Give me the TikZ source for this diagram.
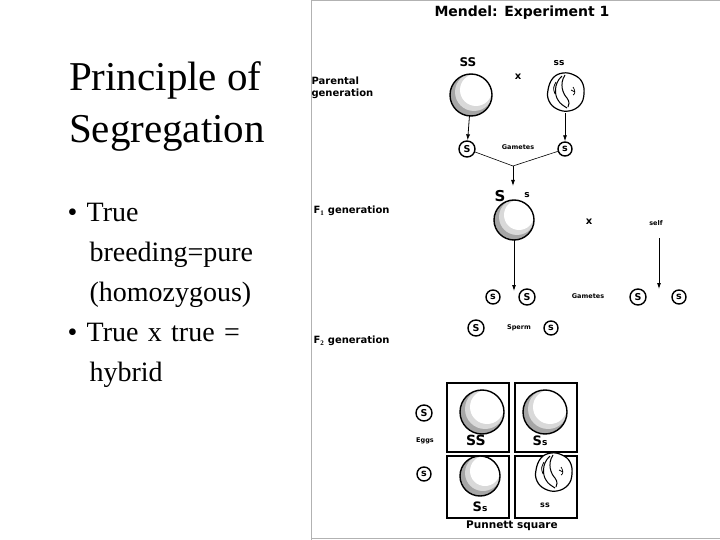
\documentclass[tikz,border=0pt]{standalone}
\usepackage{fontspec}
\setmainfont{Liberation Serif}
\newfontfamily\mac{DejaVu Sans Bold}
\usetikzlibrary{arrows.meta}
\tikzset{
  gam/.style={circle,draw,line width=1.4pt,inner sep=0pt,minimum size=#1,font=\mac\fontsize{9.5}{10}\selectfont},
  lab/.style={font=\mac\fontsize{10}{12}\selectfont,anchor=west,align=left},
  sm/.style={font=\mac\fontsize{6.5}{8}\selectfont},
  arr/.style={-{Latex[length=6pt,width=4pt]},line width=0.8pt},
  pbox/.style={draw,line width=1.3pt}
}
\newcommand{\smoothpea}[3]{%
  \begin{scope}
    \clip (#1,#2) circle (#3);
    \fill[gray!70] (#1,#2) circle (#3);
    \fill[gray!30] (#1+3,#2-3) circle (#3-2);
    \fill[white] (#1+5,#2-5) circle (#3-5);
  \end{scope}
  \draw[line width=1.4pt] (#1,#2) circle (#3);
}
\newcommand{\wrinkle}[2]{%
  \begin{scope}[shift={(#1,#2)}]
  \draw[line width=1.2pt,fill=white] plot[smooth cycle,tension=0.7] coordinates
    {(-17,-2) (-12,-14) (-2,-19) (9,-17) (17,-10) (19,2) (15,13) (4,19) (-8,17) (-16,9)};
  \draw[line width=1pt] (-3,-16) .. controls (-12,-8) and (-10,4) .. (-7,8) .. controls (-5,12) and (-1,14) .. (2,16);
  \draw[line width=1pt] (0,-17) .. controls (-6,-8) and (-2,2) .. (2,6) .. controls (5,10) and (4,13) .. (3,15);
  \draw[line width=0.8pt] (-9,-10) .. controls (-12,-4) .. (-10,2);
  \draw[line width=0.7pt] (8,-5) .. controls (10,-2) and (11,2) .. (8,3) (6,-2) -- (10,0);
  \end{scope}
}
\begin{document}
\begin{tikzpicture}[x=1pt,y=-1pt]
\useasboundingbox (0,0) rectangle (720,540);
\fill[white] (0,0) rectangle (720,540);
% left text
\node[font=\fontsize{41}{52}\selectfont,align=left] (title) at (167,106) {Principle of\\Segregation};
\node[font=\fontsize{28}{40}\selectfont,anchor=north west,align=left,text width=230pt] (b1) at (64,200)
 {\textbullet\ True\\\hspace*{22pt}breeding=pure\\\hspace*{22pt}(homozygous)\\\textbullet\ True x true =\\\hspace*{22pt}hybrid};
% frame
\draw[gray!60,line width=1pt] (311,0) -- (311,540);
\draw[gray!60,line width=1pt] (311,1) -- (720,1);
\draw[gray!60,line width=1pt] (311,538) -- (720,538);
% header
\node[font=\mac\fontsize{14}{14}\selectfont] (head) at (522,13) {Mendel: Experiment 1};
\node[lab] (par) at (308,88) {Parental\\generation};
\node[lab] (f1) at (310,211) {F$_{\mathbf 1}$ generation};
\node[lab] (f2) at (310,341) {F$_{\mathbf 2}$ generation};
% parental
\node[font=\mac\fontsize{12}{12}\selectfont] (lSS) at (468,62) {SS};
\smoothpea{471}{95}{21}
\node[circle,minimum size=42pt] (p1) at (471,95) {};
\node[font=\mac\fontsize{10}{11}\selectfont] (x1) at (518,77) {x};
\node[font=\mac\fontsize{9}{9}\selectfont] (lss) at (559,63) {ss};
\wrinkle{565}{92}
\node[circle,minimum size=42pt] (p2) at (565,92) {};
\node[gam=16pt] (g1) at (467,149) {S};
\node[gam=14pt] (g2) at (565,149) {s};
\node[sm] (gl1) at (518,147) {Gametes};
\draw[arr] (p1) -- (g1);
\draw[arr] (p2) -- (g2);
\coordinate (j) at (513,166);
\draw[line width=0.6pt] (g1) -- (j) -- (g2);
% F1
\node[font=\mac\fontsize{15}{15}\selectfont] (fS) at (500,196) {S};
\node[font=\mac\fontsize{9}{9}\selectfont] (fs) at (527,195) {s};
\draw[arr] (j) -- (513,186);
\smoothpea{514}{220}{20}
\node[circle,minimum size=40pt] (f1p) at (514,220) {};
\node[font=\mac\fontsize{10}{11}\selectfont] (x2) at (589,222) {x};
\node[sm] (self) at (656,223) {self};
\node[gam=14pt] (h1) at (493,297) {s};
\node[gam=16pt] (h2) at (527,297) {S};
\node[sm] (gl2) at (588,296) {Gametes};
\node[gam=16pt] (h3) at (638,297) {S};
\node[gam=14pt] (h4) at (679,297) {s};
\coordinate (a1) at (514,291);
\coordinate (a2) at (659,289);
\coordinate (sf) at (659,238);
\draw[arr] (f1p) -- (a1);
\draw[arr] (sf) -- (a2);
\node[gam=16pt] (k1) at (476,328) {S};
\node[sm] (sp) at (519,328) {Sperm};
\node[gam=14pt] (k2) at (551,328) {s};
% punnett
\draw[pbox] (447,383) rectangle (509,452);
\draw[pbox] (515,383) rectangle (577,452);
\draw[pbox] (447,456) rectangle (509,518);
\draw[pbox] (515,456) rectangle (577,518);
\smoothpea{482}{412}{22}
\smoothpea{545}{412}{22}
\smoothpea{480}{476}{20}
\wrinkle{553}{472}
\node[font=\mac\fontsize{14}{14}\selectfont] (q1) at (476,440) {SS};
\node[font=\mac\fontsize{13}{13}\selectfont] (q2) at (540,441) {S\fontsize{9}{9}\selectfont s};
\node[font=\mac\fontsize{13}{13}\selectfont] (q3) at (480,507) {S\fontsize{9}{9}\selectfont s};
\node[font=\mac\fontsize{8}{8}\selectfont] (q4) at (545,505) {ss};
\node[gam=16pt] (e1) at (424,413) {S};
\node[sm] (eg) at (425,441) {Eggs};
\node[gam=14pt] (e2) at (424,474) {s};
\node[font=\mac\fontsize{10.5}{11}\selectfont] (pun) at (512,526) {Punnett square};
\end{tikzpicture}
\end{document}
